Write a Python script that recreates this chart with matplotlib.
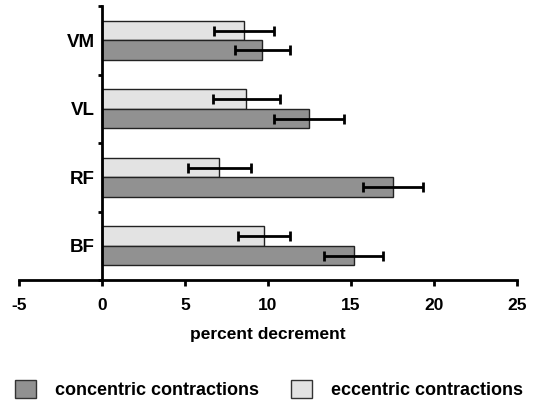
import matplotlib
matplotlib.use("Agg")
import matplotlib.pyplot as plt
import numpy as np
from matplotlib.patches import Patch

plt.rcParams['font.family'] = ['Liberation Sans', 'DejaVu Sans']

muscles = ["BF", "RF", "VL", "VM"]
concentric = [15.15, 17.55, 12.45, 9.65]
concentric_err = [1.75, 1.8, 2.1, 1.65]
eccentric = [9.75, 7.05, 8.7, 8.55]
eccentric_err = [1.55, 1.9, 2.0, 1.8]
xticks = [-5, 0, 5, 10, 15, 20, 25]

fig = plt.figure(figsize=(5.39, 4.09), dpi=100)
ax = fig.add_axes([0.0353, 0.315, 0.9239, 0.670])

y = np.arange(len(muscles))
h = 0.285
ax.barh(y + h / 2, eccentric, height=h, color="#e3e3e3", edgecolor="#222222", linewidth=1.0)
ax.barh(y - h / 2, concentric, height=h, color="#919191", edgecolor="#222222", linewidth=1.0)
ax.errorbar(eccentric, y + h / 2, xerr=eccentric_err, fmt="none", ecolor="black",
            elinewidth=2.0, capsize=3.5, capthick=2.0)
ax.errorbar(concentric, y - h / 2, xerr=concentric_err, fmt="none", ecolor="black",
            elinewidth=2.0, capsize=3.5, capthick=2.0)

ax.set_xlim(-5, 25)
ax.set_ylim(-0.5, 3.5)
ax.spines['left'].set_position(('data', 0))
ax.spines['top'].set_visible(False)
ax.spines['right'].set_visible(False)
ax.spines['left'].set_linewidth(2)
ax.spines['bottom'].set_linewidth(2)

ax.set_xticks(xticks)
ax.set_xticklabels([str(v) for v in xticks], fontsize=12.5, fontweight='bold')
ax.tick_params(axis='x', direction='out', length=4, width=2, pad=9)

ax.set_yticks(y)
ax.set_yticklabels(muscles, fontsize=13.5, fontweight='bold')
ax.tick_params(axis='y', which='major', length=0, pad=5)
ax.set_yticks(np.arange(-0.5, 3.6, 1.0), minor=True)
ax.tick_params(axis='y', which='minor', direction='out', length=3, width=2)

ax.set_xlabel("percent decrement", fontsize=12.5, fontweight='bold', labelpad=10)

handles = [Patch(facecolor="#919191", edgecolor="#333333", linewidth=1.0, label="concentric contractions"),
           Patch(facecolor="#e3e3e3", edgecolor="#333333", linewidth=1.0, label="eccentric contractions")]
fig.legend(handles=handles, loc="center left", bbox_to_anchor=(0.028, 0.048), ncol=2,
           frameon=False, prop={'size': 13, 'weight': 'bold'},
           handlelength=1.17, handleheight=1.17, handletextpad=1.05, columnspacing=1.75,
           borderpad=0, borderaxespad=0)

fig.savefig("out.png", dpi=100)
